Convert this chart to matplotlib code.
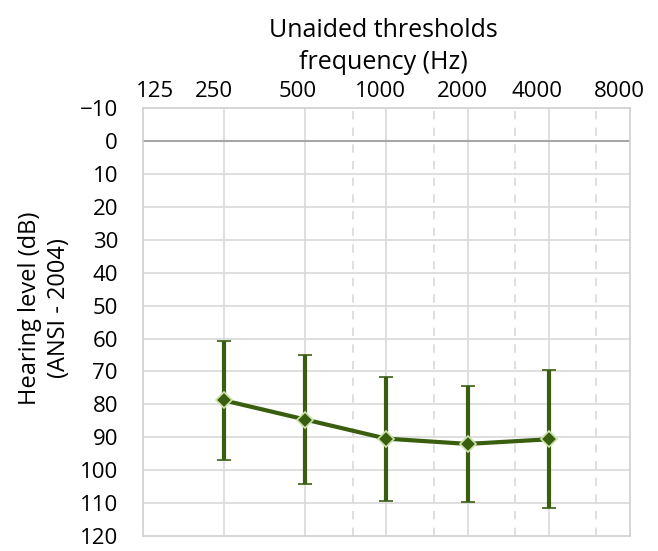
import numpy as np
import matplotlib
matplotlib.use('Agg')
import matplotlib.pyplot as plt
import matplotlib.transforms as mtransforms
from matplotlib.ticker import FixedLocator, NullLocator

# audiogram data
freqs = [250, 500, 1000, 2000, 4000]
mean_db = [78.8, 84.6, 90.4, 92.0, 90.6]
sd_db = [18.2, 19.6, 18.8, 17.7, 21.0]

tick_freqs = [125, 250, 500, 1000, 2000, 4000, 8000]
tick_labels = ['125', '250', '500', '1000', '2000', '4000', '8000']
# the labels in the original sit a little off their grid lines (pixels)
label_shift = [12, -10, -8, -6, -5, -12, -11]
half_octaves = [750, 1500, 3000, 6000]
y_ticks = list(range(-10, 130, 10))

plt.rcParams['font.family'] = ['Open Sans', 'DejaVu Sans']

fig = plt.figure(figsize=(6.58, 5.51), dpi=100)
ax = fig.add_axes([0.2173, 0.027, 0.740, 0.777])

ax.set_xscale('log', base=2)
ax.set_xlim(125, 8000)
ax.set_ylim(120, -10)

# grid: solid at octaves, dashed at half octaves
for f in tick_freqs[1:-1]:
    ax.axvline(f, color='#d9d9d9', lw=1.2, zorder=1)
for f in half_octaves:
    ax.axvline(f, color='#d9d9d9', lw=1.2, ls=(0, (5, 5)), zorder=1)
for y in y_ticks:
    if y not in (-10, 0, 120):
        ax.axhline(y, color='#d9d9d9', lw=1.2, zorder=1)
ax.axhline(0, color='#a6a6a6', lw=1.5, zorder=2)

ax.errorbar(freqs, mean_db, yerr=sd_db, color='#3a5e10', lw=3,
            elinewidth=3, capsize=5, capthick=3,
            marker='D', markersize=8, markerfacecolor='#3a5e10',
            markeredgecolor='#c9e3a8', markeredgewidth=1.2, zorder=5)

ax.xaxis.set_major_locator(FixedLocator(tick_freqs))
ax.xaxis.set_minor_locator(NullLocator())
ax.set_xticklabels(tick_labels)
ax.xaxis.tick_top()
ax.set_yticks(y_ticks)
ax.set_yticklabels(['\u221210'] + [str(v) for v in y_ticks[1:]])
ax.tick_params(axis='both', length=0, labelsize=16, colors='#000000')
ax.tick_params(axis='x', pad=4)
ax.tick_params(axis='y', pad=18)

for lab, dx in zip(ax.get_xticklabels(), label_shift):
    off = mtransforms.ScaledTranslation(dx / 100.0, 0, fig.dpi_scale_trans)
    lab.set_transform(lab.get_transform() + off)

for s in ax.spines.values():
    s.set_color('#d0d0d0')
    s.set_linewidth(1.2)

fig.text(0.582, 0.945, 'Unaided thresholds', ha='center', va='center', fontsize=18)
fig.text(0.582, 0.887, 'frequency (Hz)', ha='center', va='center', fontsize=18)
fig.text(0.068, 0.44, 'Hearing level (dB)\n(ANSI - 2004)', ha='center', va='center',
         rotation=90, fontsize=17, linespacing=1.3)

plt.savefig('out.png', dpi=100)
